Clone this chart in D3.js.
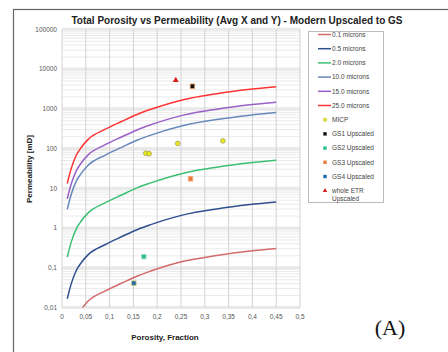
<!DOCTYPE html>
<html>
<head>
<meta charset="utf-8">
<script src="https://cdn.jsdelivr.net/npm/d3@7"></script>
<style>
  body { margin: 0; background: #fff; }
  svg { display: block; font-family: "Liberation Sans", Arial, sans-serif; }
  .tick-label { font-size: 6.5px; fill: #555; }
  .legend text { font-size: 6.5px; fill: #444; }
</style>
</head>
<body>
<svg id="chart" width="448" height="352"></svg>
<script>
// porosity positions
const phi = [0.011, 0.02, 0.03, 0.04, 0.055, 0.09, 0.125, 0.16, 0.185, 0.255, 0.325, 0.395, 0.45];

const k25 = [13.2, 33.1, 67.6, 104.7, 169.8, 302, 479, 741, 955, 1698, 2399, 3090, 3589];
const k15 = [5.4, 13.5, 27.5, 42.7, 69.2, 123, 195, 302, 389, 692, 977, 1259, 1462];
const k10 = [2.95, 7.4, 15.1, 23.4, 38, 67.6, 107, 166, 214, 380, 537, 692, 804];
const k2  = [0.186, 0.468, 0.955, 1.48, 2.4, 4.27, 6.76, 10.5, 13.5, 24, 33.9, 43.7, 50.7];
const k05 = [0.0166, 0.0417, 0.0851, 0.132, 0.214, 0.38, 0.603, 0.933, 1.2, 2.14, 3.02, 3.89, 4.52];
const phi01 = [0.04, 0.055, 0.09, 0.125, 0.16, 0.185, 0.255, 0.325, 0.395, 0.45];
const k01 = [0.0089, 0.0145, 0.0257, 0.0407, 0.0631, 0.0813, 0.145, 0.204, 0.263, 0.305];

const curves = [
  { name: '0.1 microns', x: phi01, y: k01, color: '#d46a6a' },
  { name: '0.5 microns', x: phi, y: k05, color: '#2f4f8f' },
  { name: '2.0 microns', x: phi, y: k2, color: '#3cbf73' },
  { name: '10.0 microns', x: phi, y: k10, color: '#6688bb' },
  { name: '15.0 microns', x: phi, y: k15, color: '#9960c8' },
  { name: '25.0 microns', x: phi, y: k25, color: '#ff3333' }
];

// measured samples
const micpPhi = [0.176, 0.183, 0.243, 0.338];
const micpK = [76, 74, 134, 156];
const gsNames = ['GS1 Upscaled', 'GS2 Upscaled', 'GS3 Upscaled', 'GS4 Upscaled'];
const gsPhi = [0.274, 0.172, 0.270, 0.151];
const gsK = [3700, 0.19, 17.3, 0.041];
const gsFill = ['#111111', '#2cbf85', '#ec7a3a', '#1f6aa8'];
const gsStroke = ['#d9904a', '#9adcc0', '#f0a070', '#c8c070'];
const etrPhi = [0.239];
const etrK = [5250];

const xTicks = [0, 0.05, 0.1, 0.15, 0.2, 0.25, 0.3, 0.35, 0.4, 0.45, 0.5];
const yTicks = [0.01, 0.1, 1, 10, 100, 1000, 10000, 100000];

const svg = d3.select('#chart');

// outer frame
svg.append('rect')
  .attr('x', 13.5).attr('y', 9.5)
  .attr('width', 600).attr('height', 600)
  .attr('fill', 'none').attr('stroke', '#666').attr('stroke-width', 1.2);

const x = d3.scaleLinear().domain([0, 0.5]).range([62, 300]);
const y = d3.scaleLog().domain([0.01, 100000]).range([307.5, 29.3]);

svg.append('clipPath').attr('id', 'plot-clip')
  .append('rect')
  .attr('x', 62).attr('y', 29.3)
  .attr('width', 238).attr('height', 278.2);

const grid = svg.append('g');

// minor log lines
const minor = [];
for (let e = -2; e < 5; e++) {
  for (let m = 2; m <= 9; m++) minor.push(m * Math.pow(10, e));
}
grid.selectAll('.minor')
  .data(minor)
  .enter()
  .append('line')
  .attr('x1', 62).attr('x2', 300)
  .attr('y1', d => y(d)).attr('y2', d => y(d))
  .attr('stroke', '#e4e4e4').attr('stroke-width', 0.8);

// decade bands
grid.selectAll('.major')
  .data(yTicks)
  .enter()
  .append('line')
  .attr('x1', 62).attr('x2', 300)
  .attr('y1', d => y(d)).attr('y2', d => y(d))
  .attr('stroke', '#e9e9e9').attr('stroke-width', 3);

grid.selectAll('.vline')
  .data(xTicks)
  .enter()
  .append('line')
  .attr('x1', d => x(d)).attr('x2', d => x(d))
  .attr('y1', 29.3).attr('y2', 307.5)
  .attr('stroke', '#d2d2d2').attr('stroke-width', 1);

// tick labels
const fmt = d => String(d).replace('.', ',');

svg.append('g')
  .selectAll('text')
  .data(yTicks)
  .enter()
  .append('text')
  .attr('class', 'tick-label')
  .attr('x', 57)
  .attr('y', d => y(d) + 2.3)
  .attr('text-anchor', 'end')
  .text(fmt);

svg.append('g')
  .selectAll('text')
  .data(xTicks)
  .enter()
  .append('text')
  .attr('class', 'tick-label')
  .attr('x', d => x(d))
  .attr('y', 318.5)
  .attr('text-anchor', 'middle')
  .text(fmt);

// curves
const line = d3.line()
  .x(d => x(d[0]))
  .y(d => y(d[1]))
  .curve(d3.curveMonotoneX);

svg.append('g')
  .attr('clip-path', 'url(#plot-clip)')
  .selectAll('path')
  .data(curves)
  .enter()
  .append('path')
  .attr('d', c => line(c.x.map((v, i) => [v, c.y[i]])))
  .attr('fill', 'none')
  .attr('stroke', c => c.color)
  .attr('stroke-width', 1.5);

// points
const pts = svg.append('g');

pts.selectAll('.micp')
  .data(micpPhi)
  .enter()
  .append('circle')
  .attr('cx', d => x(d))
  .attr('cy', (d, i) => y(micpK[i]))
  .attr('r', 2.4)
  .attr('fill', '#e8e81c')
  .attr('stroke', '#9a9a60')
  .attr('stroke-width', 0.7);

pts.selectAll('.gs')
  .data(gsPhi)
  .enter()
  .append('rect')
  .attr('x', d => x(d) - 2.2)
  .attr('y', (d, i) => y(gsK[i]) - 2.2)
  .attr('width', 4.4).attr('height', 4.4)
  .attr('fill', (d, i) => gsFill[i])
  .attr('stroke', (d, i) => gsStroke[i])
  .attr('stroke-width', 0.8);

const tri = d3.symbol().type(d3.symbolTriangle).size(16);
pts.selectAll('.etr')
  .data(etrPhi)
  .enter()
  .append('path')
  .attr('d', tri)
  .attr('transform', (d, i) => `translate(${x(d)}, ${y(etrK[i])})`)
  .attr('fill', '#d42020');

// legend
const legend = svg.append('g').attr('class', 'legend');
legend.append('rect')
  .attr('x', 308.5).attr('y', 31.5)
  .attr('width', 75).attr('height', 171)
  .attr('fill', '#fff').attr('stroke', '#bbb').attr('stroke-width', 1);

const rowY = i => 34.5 + i * 14.2;

curves.forEach((c, i) => {
  legend.append('line')
    .attr('x1', 318).attr('x2', 331)
    .attr('y1', rowY(i)).attr('y2', rowY(i))
    .attr('stroke', c.color).attr('stroke-width', 1.5);
  legend.append('text')
    .attr('x', 332).attr('y', rowY(i) + 2.2)
    .text(c.name);
});

legend.append('circle')
  .attr('cx', 325).attr('cy', rowY(6))
  .attr('r', 1.8).attr('fill', '#e8e81c').attr('stroke', '#b0b060').attr('stroke-width', 0.5);
legend.append('text').attr('x', 332).attr('y', rowY(6) + 2.2).text('MICP');

gsNames.forEach((n, i) => {
  legend.append('rect')
    .attr('x', 323.3).attr('y', rowY(7 + i) - 1.7)
    .attr('width', 3.4).attr('height', 3.4)
    .attr('fill', gsFill[i]);
  legend.append('text').attr('x', 332).attr('y', rowY(7 + i) + 2.2).text(n);
});

legend.append('path')
  .attr('d', d3.symbol().type(d3.symbolTriangle).size(9))
  .attr('transform', `translate(325, ${rowY(11)})`)
  .attr('fill', '#d42020');
legend.append('text').attr('x', 332).attr('y', rowY(11) + 2.2).text('whole ETR');
legend.append('text').attr('x', 332).attr('y', rowY(11) + 10.4).text('Upscaled');

// titles
svg.append('text')
  .attr('x', 237).attr('y', 23.5)
  .attr('text-anchor', 'middle')
  .attr('font-size', 10)
  .attr('font-weight', 'bold')
  .attr('fill', '#222')
  .text('Total Porosity vs Permeability  (Avg X and Y) - Modern Upscaled to GS');

svg.append('text')
  .attr('transform', 'translate(32, 169) rotate(-90)')
  .attr('text-anchor', 'middle')
  .attr('font-size', 8)
  .attr('font-weight', 'bold')
  .attr('fill', '#222')
  .text('Permeability [mD]');

svg.append('text')
  .attr('x', 165).attr('y', 340)
  .attr('text-anchor', 'middle')
  .attr('font-size', 8)
  .attr('font-weight', 'bold')
  .attr('fill', '#222')
  .text('Porosity, Fraction');

svg.append('text')
  .attr('x', 390).attr('y', 335)
  .attr('text-anchor', 'middle')
  .attr('font-family', '"Liberation Serif", "Times New Roman", serif')
  .attr('font-size', 22)
  .attr('fill', '#111')
  .text('(A)');
</script>
</body>
</html>
